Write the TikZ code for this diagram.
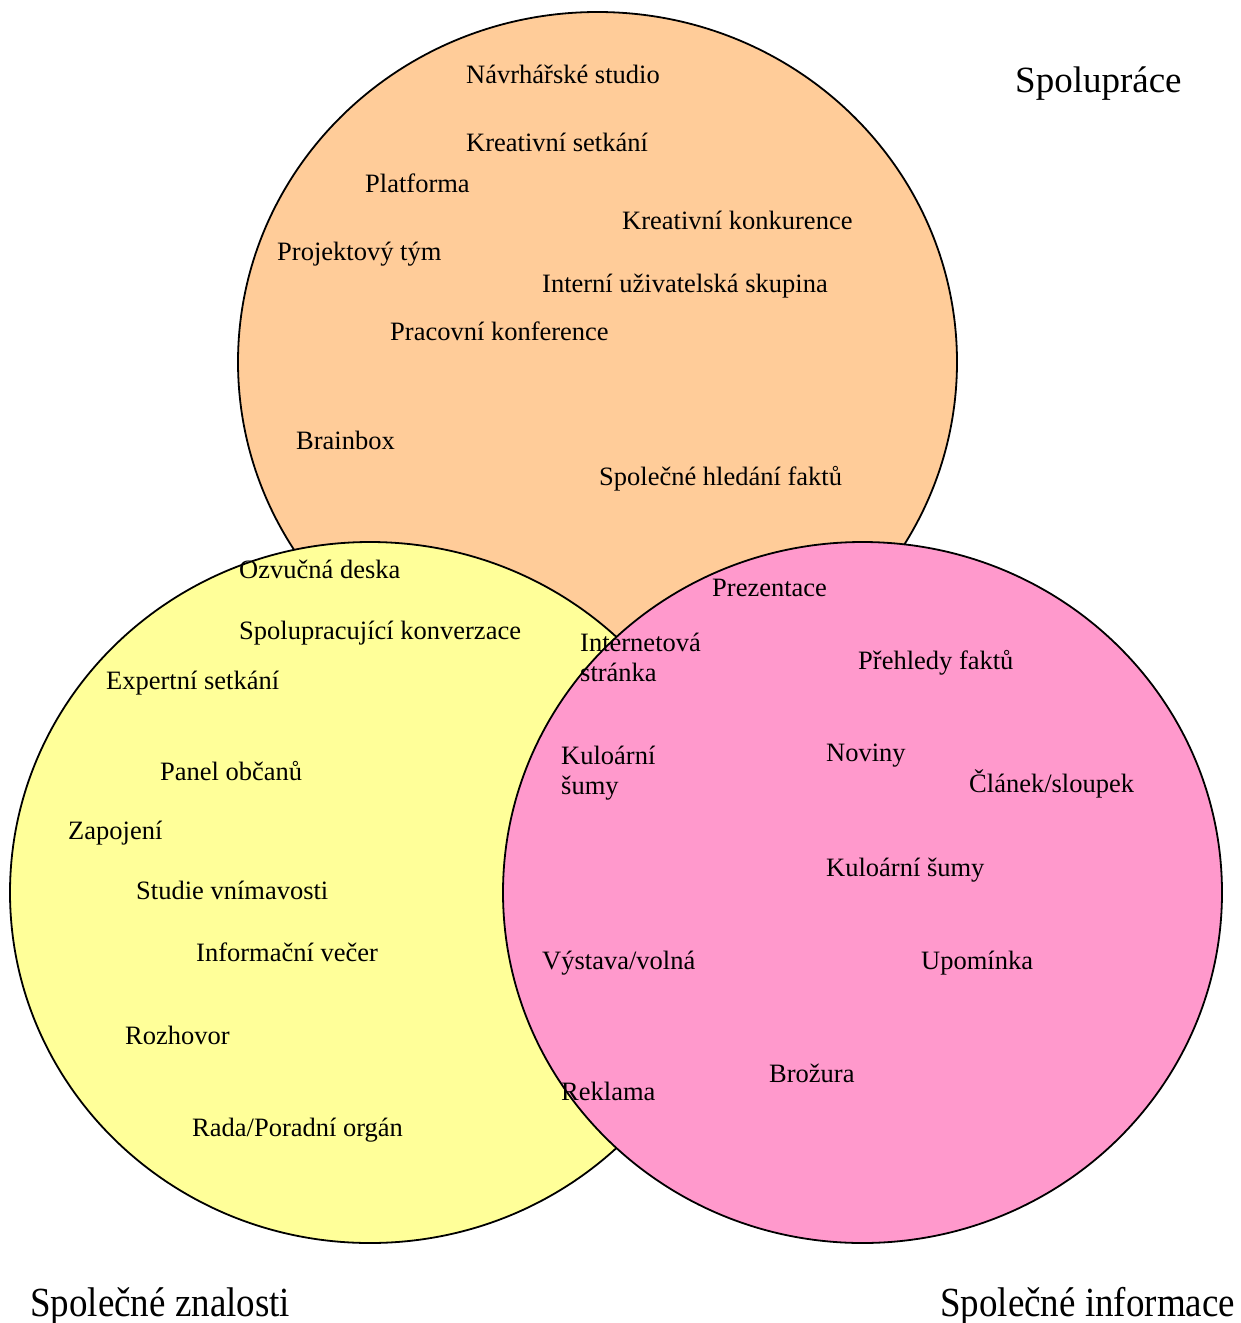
\documentclass[tikz,border=0pt]{standalone}
\usepackage{fontspec}
\setmainfont{Liberation Serif}
\definecolor{corange}{RGB}{255,204,153}
\definecolor{cyellow}{RGB}{255,255,153}
\definecolor{cpink}{RGB}{255,153,204}
\begin{document}
\begin{tikzpicture}[x=1pt,y=-1pt,
  setshape/.style={draw=black,line width=1.8pt},
  lbl/.style={anchor=base west,inner sep=0pt,font=\fontsize{26.5}{30}\selectfont,align=left},
  title/.style={anchor=base west,inner sep=0pt,font=\fontsize{37}{42}\selectfont},
  btitle/.style={anchor=base west,inner sep=0pt,font=\fontsize{37}{42}\selectfont,yscale=1.12}]
\useasboundingbox (0,0) rectangle (1240,1323);
\fill[white] (0,0) rectangle (1240,1323);
% sets
\draw[setshape,fill=corange] (597.5,362) ellipse [x radius=359.5, y radius=350];
\draw[setshape,fill=cyellow] (370,892.5) ellipse [x radius=360, y radius=350.5];
\draw[setshape,fill=cpink] (862.5,892.5) ellipse [x radius=359.5, y radius=350.5];
% titles
\node[title] (tc) at (1015,92) {Spolupráce};
\node[btitle] (tz) at (30,1316) {Společné znalosti};
\node[btitle] (ti) at (940,1316) {Společné informace};
% Spolupráce
\node[lbl] (a1) at (466,83) {Návrhářské studio};
\node[lbl] (a2) at (466,151) {Kreativní setkání};
\node[lbl] (a3) at (365,192) {Platforma};
\node[lbl] (a4) at (622,229) {Kreativní konkurence};
\node[lbl] (a5) at (277,260) {Projektový tým};
\node[lbl] (a6) at (542,292) {Interní uživatelská skupina};
\node[lbl] (a7) at (390,340) {Pracovní konference};
\node[lbl] (a8) at (296,449) {Brainbox};
\node[lbl] (a9) at (599,485) {Společné hledání faktů};
% Společné znalosti
\node[lbl] (b1) at (239,578) {Ozvučná deska};
\node[lbl] (b2) at (239,639) {Spolupracující konverzace};
\node[lbl] (b3) at (106,689) {Expertní setkání};
\node[lbl] (b4) at (160,780) {Panel občanů};
\node[lbl] (b5) at (68,839) {Zapojení};
\node[lbl] (b6) at (136,899) {Studie vnímavosti};
\node[lbl] (b7) at (196,961) {Informační večer};
\node[lbl] (b8) at (125,1044) {Rozhovor};
\node[lbl] (b9) at (192,1136) {Rada/Poradní orgán};
% Společné informace
\node[lbl] (c1) at (712,596) {Prezentace};
\node[lbl] (c2) at (580,681) {Internetová\\stránka};
\node[lbl] (c3) at (858,669) {Přehledy faktů};
\node[lbl] (c4) at (561,794) {Kuloární\\šumy};
\node[lbl] (c5) at (826,761) {Noviny};
\node[lbl] (c6) at (969,792) {Článek/sloupek};
\node[lbl] (c7) at (826,876) {Kuloární šumy};
\node[lbl] (c8) at (542,969) {Výstava/volná};
\node[lbl] (c9) at (921,969) {Upomínka};
\node[lbl] (c10) at (561,1100) {Reklama};
\node[lbl] (c11) at (769,1082) {Brožura};
\end{tikzpicture}
\end{document}
